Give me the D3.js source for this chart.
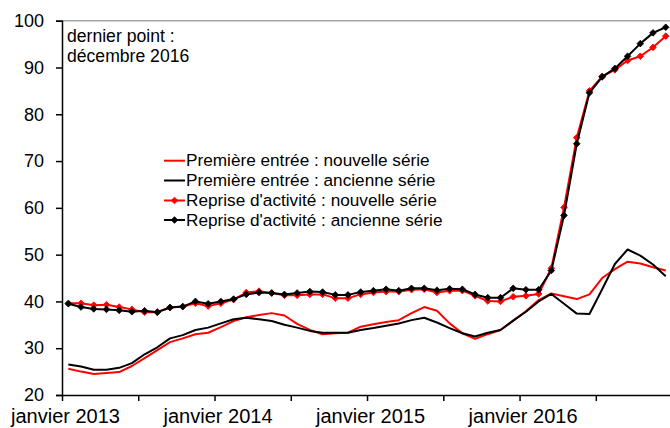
<!DOCTYPE html>
<html>
<head>
<meta charset="utf-8">
<script src="https://cdn.jsdelivr.net/npm/d3@7"></script>
<style>
  html, body { margin: 0; padding: 0; background: #fff; }
  svg { display: block; font-family: "Liberation Sans", Arial, sans-serif; }
</style>
</head>
<body>
<svg id="chart" width="670" height="428"></svg>
<script>
// ---- data ----
const months = [
  "2013-01","2013-02","2013-03","2013-04","2013-05","2013-06","2013-07","2013-08","2013-09","2013-10","2013-11","2013-12",
  "2014-01","2014-02","2014-03","2014-04","2014-05","2014-06","2014-07","2014-08","2014-09","2014-10","2014-11","2014-12",
  "2015-01","2015-02","2015-03","2015-04","2015-05","2015-06","2015-07","2015-08","2015-09","2015-10","2015-11","2015-12",
  "2016-01","2016-02","2016-03","2016-04","2016-05","2016-06","2016-07","2016-08","2016-09","2016-10","2016-11","2016-12"
];
const premiereNouvelle = [
  25.6,25.0,24.5,24.7,24.9,26.2,27.9,29.6,31.3,32.1,33.0,33.3,
  34.5,35.8,36.6,37.1,37.5,37.0,35.2,33.9,33.0,33.2,33.3,34.6,
  35.1,35.6,36.0,37.5,38.8,38.0,35.3,33.2,32.0,33.0,33.9,35.9,
  37.9,40.3,41.7,41.1,40.5,41.5,45.0,46.9,48.5,48.1,47.3,46.6
];
const premiereAncienne = [
  26.5,26.1,25.4,25.4,25.8,26.8,28.7,30.2,32.1,32.8,33.9,34.4,
  35.3,36.2,36.5,36.2,35.8,35.0,34.4,33.7,33.3,33.3,33.3,33.9,
  34.3,34.8,35.3,36.0,36.5,35.5,34.3,33.2,32.5,33.3,33.9,35.9,
  37.8,40.0,41.6,39.5,37.4,37.3,42.6,48.0,51.1,49.8,47.9,45.4
];
const repriseNouvelle = [
  39.6,39.6,39.2,39.3,38.8,38.3,37.7,37.7,38.7,38.9,39.6,39.0,
  39.6,40.4,41.9,42.2,41.8,41.3,41.3,41.5,41.5,40.7,40.7,41.5,
  41.9,42.1,42.1,42.5,42.6,41.9,42.3,42.3,41.2,40.1,40.0,41.0,
  41.2,41.6,47.1,60.1,75.0,85.0,88.1,89.5,91.5,92.4,94.3,96.7
];
const repriseAncienne = [
  39.5,38.8,38.4,38.3,38.1,37.8,38.0,37.7,38.7,38.9,40.0,39.5,
  40.0,40.5,41.5,41.9,41.8,41.5,41.8,42.1,42.0,41.4,41.4,42.0,
  42.3,42.6,42.3,42.8,42.8,42.4,42.7,42.6,41.5,40.8,40.8,42.8,
  42.5,42.5,46.6,58.4,73.7,84.6,88.0,89.8,92.4,95.1,97.4,98.6
];
const seriesNames = [
  "Première entrée : nouvelle série",
  "Première entrée : ancienne série",
  "Reprise d'activité : nouvelle série",
  "Reprise d'activité : ancienne série"
];
const yTicks = [20, 30, 40, 50, 60, 70, 80, 90, 100];
const xTickMonths = [0, 6, 12, 18, 24, 30, 36, 42];
const xLabels = {0: "janvier 2013", 12: "janvier 2014", 24: "janvier 2015", 36: "janvier 2016"};
const annotation = ["dernier point :", "décembre 2016"];

// ---- layout ----
const svg = d3.select("#chart");
const plotLeft = 62, plotTop = 20.7, plotBottom = 395;
const step = 12.71;
const plotRight = plotLeft + months.length * step;

const x = d3.scaleLinear().domain([0, months.length]).range([plotLeft, plotRight]);
const y = d3.scaleLinear().domain([20, 100]).range([plotBottom, plotTop]);

// top border of plot area
svg.append("line")
  .attr("x1", plotLeft).attr("x2", 670).attr("y1", y(100)).attr("y2", y(100))
  .attr("stroke", "#a6a6a6").attr("stroke-width", 1.5);

// y axis
const yAxis = svg.append("g").attr("transform", `translate(${plotLeft},0)`)
  .call(d3.axisLeft(y).tickValues(yTicks).tickSize(6).tickPadding(12).tickFormat(d3.format("d")));
yAxis.select(".domain").attr("stroke", "#000").attr("stroke-width", 1.5);
yAxis.selectAll(".tick line").attr("stroke", "#000").attr("stroke-width", 1.5);
yAxis.selectAll(".tick text").attr("font-size", 18).attr("fill", "#000")
  .attr("font-family", "'Liberation Sans', Arial, sans-serif");

// x axis
const xAxis = svg.append("g").attr("transform", `translate(0,${plotBottom})`)
  .call(d3.axisBottom(x).tickValues(xTickMonths).tickSize(6).tickSizeOuter(0).tickPadding(8)
    .tickFormat(d => xLabels[d] || ""));
xAxis.select(".domain").attr("stroke", "#000").attr("stroke-width", 1.5);
xAxis.selectAll(".tick line").attr("stroke", "#000").attr("stroke-width", 1.5);
xAxis.selectAll(".tick text").attr("font-size", 20).attr("fill", "#000")
  .attr("dx", 3)
  .attr("font-family", "'Liberation Sans', Arial, sans-serif");

// series
const series = [
  {name: seriesNames[0], values: premiereNouvelle, color: "#ff0000", marker: false},
  {name: seriesNames[1], values: premiereAncienne, color: "#000000", marker: false},
  {name: seriesNames[2], values: repriseNouvelle, color: "#ff0000", marker: true},
  {name: seriesNames[3], values: repriseAncienne, color: "#000000", marker: true}
];

const line = d3.line().x((d, i) => x(i + 0.5)).y(d => y(d));
const diamond = d3.symbol().type(d3.symbolSquare).size(22);

series.forEach(s => {
  svg.append("path")
    .datum(s.values)
    .attr("fill", "none")
    .attr("stroke", s.color)
    .attr("stroke-width", 2)
    .attr("stroke-linejoin", "round")
    .attr("d", line);
  if (s.marker) {
    svg.append("g").selectAll("path")
      .data(s.values)
      .join("path")
      .attr("d", diamond)
      .attr("transform", (d, i) => `translate(${x(i + 0.5)},${y(d)}) rotate(45)`)
      .attr("fill", s.color)
      .attr("stroke", s.color)
      .attr("stroke-width", 0.8);
  }
});

// annotation
svg.append("text").attr("x", 67).attr("y", 42).attr("font-size", 17.6).attr("fill", "#000").text(annotation[0]);
svg.append("text").attr("x", 67).attr("y", 62).attr("font-size", 17.6).attr("fill", "#000").text(annotation[1]);

// legend
const legendY = [160.7, 180.5, 200.5, 220];
const legend = svg.append("g");
series.forEach((s, i) => {
  const g = legend.append("g").attr("transform", `translate(0,${legendY[i]})`);
  g.append("line").attr("x1", 164).attr("x2", 185).attr("y1", 0).attr("y2", 0)
    .attr("stroke", s.color).attr("stroke-width", 2);
  if (s.marker) {
    g.append("path").attr("d", diamond)
      .attr("transform", "translate(174.5,0) rotate(45)")
      .attr("fill", s.color).attr("stroke", s.color).attr("stroke-width", 0.8);
  }
  g.append("text").attr("x", 186).attr("y", 5.5).attr("font-size", 17.2).attr("fill", "#000").text(s.name);
});
</script>
</body>
</html>
